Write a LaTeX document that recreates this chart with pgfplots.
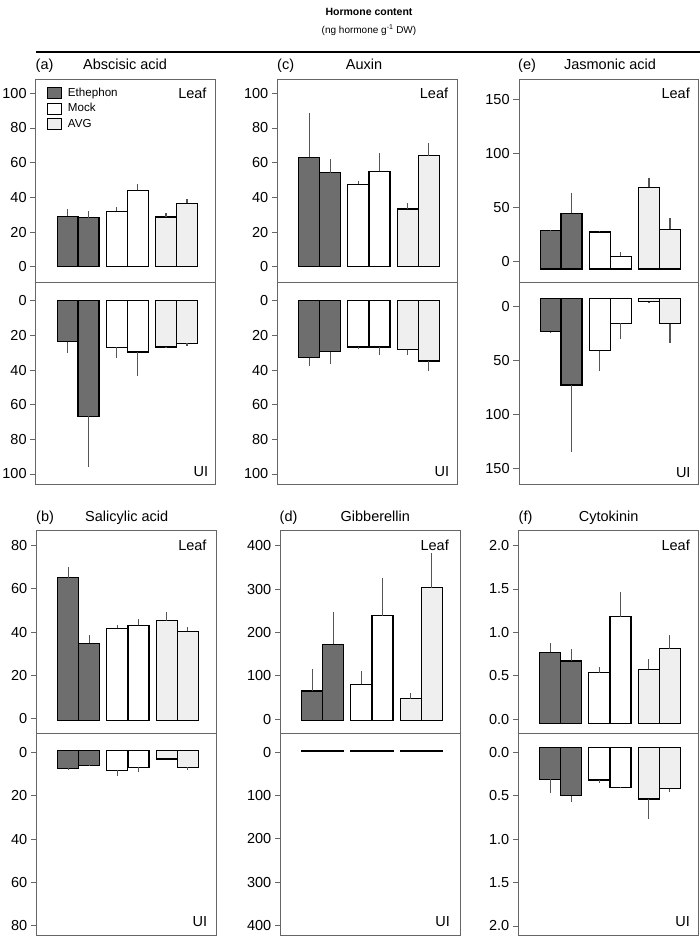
\documentclass[border=0pt]{standalone}
\usepackage{fontspec}
\setmainfont{Liberation Sans}
\usepackage{pgfplots}
\pgfplotsset{compat=1.18}
\definecolor{ethc}{HTML}{6E6E6E}
\definecolor{avgc}{HTML}{EFEFEF}
\definecolor{axgray}{HTML}{666666}
\definecolor{errgray}{HTML}{555555}
\newcommand{\tfont}{\fontsize{14.5}{16}\selectfont}
\pgfplotsset{
  panel/.style={
    scale only axis, width=179.5pt,
    xmin=0, xmax=179.5, xtick=\empty,
    axis line style={draw=axgray, line width=1pt},
    ytick pos=left, tick align=outside,
    major tick length=5.7pt,
    tick style={draw=axgray, line width=0.9pt},
    yticklabel style={font=\tfont, inner xsep=3.5pt},
    anchor=center,
  },
  leaf/.style={panel, height=202.6pt},
  ui/.style={panel, height=202pt, y dir=reverse},
  uib/.style={panel, height=202.4pt, y dir=reverse},
  hbar/.style={ybar, bar width=21pt, bar shift=0pt, draw=black, line width=1.1pt,
    /pgfplots/error bars/y dir=plus, /pgfplots/error bars/y explicit,
    /pgfplots/error bars/error mark=none,
    /pgfplots/error bars/error bar style={draw=errgray, line width=1.1pt, solid}},
}
\begin{document}
\begin{tikzpicture}
\path[use as bounding box] (0pt,0pt) rectangle (700pt,-938pt);
% header
\node[font=\bfseries\fontsize{10.5}{12}\selectfont, anchor=base] at (369pt,-15.8pt) {Hormone content};
\node[font=\fontsize{10}{12}\selectfont, anchor=base] at (369pt,-33.5pt) {(ng hormone g\textsuperscript{-1} DW)};
\draw[line width=2pt] (36pt,-52pt) -- (700pt,-52pt);
% panel titles
\begin{scope}[every node/.style={font=\tfont, inner sep=0pt}]
\node[anchor=base west] at (35.5pt,-69.7pt) {(a)};
\node[anchor=base] at (125pt,-69.7pt) {Abscisic acid};
\node[anchor=base west] at (277pt,-69.7pt) {(c)};
\node[anchor=base] at (364pt,-69.7pt) {Auxin};
\node[anchor=base west] at (518pt,-69.7pt) {(e)};
\node[anchor=base] at (610pt,-69.7pt) {Jasmonic acid};
\node[anchor=base west] at (36pt,-521pt) {(b)};
\node[anchor=base] at (126.7pt,-521pt) {Salicylic acid};
\node[anchor=base west] at (279.5pt,-521pt) {(d)};
\node[anchor=base] at (375.3pt,-521pt) {Gibberellin};
\node[anchor=base west] at (518.5pt,-521pt) {(f)};
\node[anchor=base] at (608.7pt,-521pt) {Cytokinin};
\end{scope}

% ---------- (a) Abscisic acid ----------
\begin{axis}[leaf, at={(125.75pt,-180.7pt)},
  ymin=-8.8, ymax=108, ytick={0,20,40,60,80,100}, yticklabels={0,20,40,60,80,100},
  legend style={at={(rel axis cs:0,1)}, anchor=north west, xshift=10.8pt, yshift=-7.4pt,
    draw=none, fill=none, inner sep=0pt, outer sep=0pt, row sep=4pt,
    font=\fontsize{11.6}{13}\selectfont, cells={anchor=west},
    nodes={inner xsep=6pt, inner ysep=0pt}},
  legend image code/.code={\draw[#1, draw=black, line width=0.8pt] (0pt,-5.5pt) rectangle (14.4pt,5.5pt);}]
\addplot[hbar, fill=ethc] coordinates {(31.6,29.1) +- (0,4.0) (52.5,28.3) +- (0,3.7)};
\addplot[hbar, fill=white] coordinates {(80.65,32.0) +- (0,2.4) (101.8,44.1) +- (0,3.4)};
\addplot[hbar, fill=avgc] coordinates {(130,28.7) +- (0,2.4) (151,36.7) +- (0,2.2)};
\legend{Ethephon, Mock, AVG}
\end{axis}
\begin{axis}[ui, at={(125.75pt,-383pt)},
  ymin=-10.8, ymax=105.8, ytick={0,20,40,60,80,100}, yticklabels={0,20,40,60,80,100}]
\addplot[hbar, fill=ethc] coordinates {(31.6,23.7) +- (0,6.3) (52.5,66.7) +- (0,29.1)};
\addplot[hbar, fill=white] coordinates {(80.65,26.9) +- (0,6.2) (101.8,29.6) +- (0,13.7)};
\addplot[hbar, fill=avgc] coordinates {(130,26.7) +- (0,0.6) (151,24.6) +- (0,1.5)};
\end{axis}

% ---------- (c) Auxin ----------
\begin{axis}[leaf, at={(367.45pt,-180.7pt)},
  ymin=-8.8, ymax=108, ytick={0,20,40,60,80,100}, yticklabels={0,20,40,60,80,100}]
\addplot[hbar, fill=ethc] coordinates {(31.6,63.1) +- (0,25.4) (52.5,54.2) +- (0,7.7)};
\addplot[hbar, fill=white] coordinates {(80.65,47.5) +- (0,1.9) (101.8,55.0) +- (0,10.6)};
\addplot[hbar, fill=avgc] coordinates {(130,33.3) +- (0,3.4) (151,64.0) +- (0,7.2)};
\end{axis}
\begin{axis}[ui, at={(367.45pt,-383pt)},
  ymin=-10.8, ymax=105.8, ytick={0,20,40,60,80,100}, yticklabels={0,20,40,60,80,100}]
\addplot[hbar, fill=ethc] coordinates {(31.6,32.9) +- (0,4.6) (52.5,29.4) +- (0,7.1)};
\addplot[hbar, fill=white] coordinates {(80.65,26.7) +- (0,1.2) (101.8,26.7) +- (0,4.8)};
\addplot[hbar, fill=avgc] coordinates {(130,28.3) +- (0,3.2) (151,34.8) +- (0,5.8)};
\end{axis}

% ---------- (e) Jasmonic acid ----------
\begin{axis}[leaf, at={(608.75pt,-180.7pt)}, y filter/.expression={y+6.7},
  ymin=-12, ymax=174.8, ytick={6.7,56.7,106.7,156.7}, yticklabels={0,50,100,150}]
\addplot[hbar, fill=ethc] coordinates {(31.6,28.9) +- (0,0.5) (52.5,44.6) +- (0,19.1)};
\addplot[hbar, fill=white] coordinates {(80.65,27.4) +- (0,1.2) (101.8,5.0) +- (0,4.2)};
\addplot[hbar, fill=avgc] coordinates {(130,68.6) +- (0,8.6) (151,29.9) +- (0,10.4)};
\end{axis}
\begin{axis}[ui, at={(608.75pt,-383pt)}, y filter/.expression={y+7.1},
  ymin=-15.1, ymax=171.6, ytick={7.1,57.1,107.1,157.1}, yticklabels={0,50,100,150}]
\addplot[hbar, fill=ethc] coordinates {(31.6,23.7) +- (0,0.9) (52.5,73.0) +- (0,61.6)};
\addplot[hbar, fill=white] coordinates {(80.65,41.3) +- (0,18.5) (101.8,16.0) +- (0,14.2)};
\addplot[hbar, fill=avgc] coordinates {(130,-4.0) +- (0,1.5) (151,16.3) +- (0,18.2)};
\end{axis}

% ---------- (b) Salicylic acid ----------
\begin{axis}[leaf, at={(126.45pt,-632pt)}, y filter/.expression={y+0.9},
  ymin=-6.05, ymax=87.85, ytick={0.9,20.9,40.9,60.9,80.9}, yticklabels={0,20,40,60,80}]
\addplot[hbar, fill=ethc] coordinates {(31.6,65.2) +- (0,4.9) (52.5,34.8) +- (0,3.7)};
\addplot[hbar, fill=white] coordinates {(80.65,41.7) +- (0,1.7) (101.8,43.1) +- (0,2.9)};
\addplot[hbar, fill=avgc] coordinates {(130,45.2) +- (0,3.9) (151,40.3) +- (0,2.0)};
\end{axis}
\begin{axis}[uib, at={(126.45pt,-834.5pt)}, y filter/.expression={y+0.75},
  ymin=-8.0, ymax=85.25, ytick={0.75,20.75,40.75,60.75,80.75}, yticklabels={0,20,40,60,80}]
\addplot[hbar, fill=ethc] coordinates {(31.6,7.4) +- (0,0.6) (52.5,5.9) +- (0,0.4)};
\addplot[hbar, fill=white] coordinates {(80.65,8.3) +- (0,2.5) (101.8,6.9) +- (0,2.0)};
\addplot[hbar, fill=avgc] coordinates {(130,3.1) +- (0,0) (151,6.9) +- (0,1.1)};
\end{axis}

% ---------- (d) Gibberellin ----------
\begin{axis}[leaf, at={(370.45pt,-632pt)}, y filter/.expression={y+3},
  ymin=-30, ymax=437.6, ytick={3,103,203,303,403}, yticklabels={0,100,200,300,400}]
\addplot[hbar, fill=ethc] coordinates {(31.6,64.6) +- (0,51.4) (52.5,172.4) +- (0,74.6)};
\addplot[hbar, fill=white] coordinates {(80.65,80.0) +- (0,30) (101.8,238.4) +- (0,87)};
\addplot[hbar, fill=avgc] coordinates {(130,46.9) +- (0,12.4) (151,303) +- (0,80)};
\end{axis}
\begin{axis}[uib, at={(370.45pt,-834.5pt)}, y filter/.expression={y+3.7},
  ymin=-40.1, ymax=427.7, ytick={3.7,103.7,203.7,303.7,403.7}, yticklabels={0,100,200,300,400}]
\addplot[hbar, fill=ethc] coordinates {(31.6,-1.5) +- (0,0) (52.5,-1.5) +- (0,0)};
\addplot[hbar, fill=white] coordinates {(80.65,-1.0) +- (0,0) (101.8,-1.5) +- (0,0)};
\addplot[hbar, fill=avgc] coordinates {(130,-1.5) +- (0,0) (151,-1.5) +- (0,0)};
\end{axis}

% ---------- (f) Cytokinin ----------
\begin{axis}[leaf, at={(608.45pt,-632pt)}, y filter/.expression={y+0.05},
  ymin=-0.115, ymax=2.223, ytick={0.05,0.55,1.05,1.55,2.05}, yticklabels={0.0,0.5,1.0,1.5,2.0}]
\addplot[hbar, fill=ethc] coordinates {(31.6,0.77) +- (0,0.104) (52.5,0.67) +- (0,0.14)};
\addplot[hbar, fill=white] coordinates {(80.65,0.534) +- (0,0.07) (101.8,1.18) +- (0,0.282)};
\addplot[hbar, fill=avgc] coordinates {(130,0.573) +- (0,0.119) (151,0.811) +- (0,0.155)};
\end{axis}
\begin{axis}[uib, at={(608.45pt,-834.5pt)}, y filter/.expression={y+0.053},
  ymin=-0.166, ymax=2.165, ytick={0.053,0.553,1.053,1.553,2.053}, yticklabels={0.0,0.5,1.0,1.5,2.0}]
\addplot[hbar, fill=ethc] coordinates {(31.6,0.311) +- (0,0.161) (52.5,0.50) +- (0,0.069)};
\addplot[hbar, fill=white] coordinates {(80.65,0.319) +- (0,0.031) (101.8,0.40) +- (0,0.015)};
\addplot[hbar, fill=avgc] coordinates {(130,0.538) +- (0,0.23) (151,0.419) +- (0,0.034)};
\end{axis}

% Leaf / UI labels
\begin{scope}[every node/.style={font=\tfont, inner sep=0pt, anchor=east}]
\node at (206.7pt,-93.3pt) {Leaf};
\node at (448.3pt,-93.3pt) {Leaf};
\node at (690pt,-93.3pt) {Leaf};
\node at (208.3pt,-471.7pt) {UI};
\node at (449.3pt,-471.7pt) {UI};
\node at (690.7pt,-472.5pt) {UI};
\node at (206.7pt,-545.7pt) {Leaf};
\node at (449pt,-545.7pt) {Leaf};
\node at (690pt,-545.7pt) {Leaf};
\node at (207.3pt,-921.7pt) {UI};
\node at (450pt,-921.7pt) {UI};
\node at (690pt,-921.7pt) {UI};
\end{scope}
\end{tikzpicture}
\end{document}
